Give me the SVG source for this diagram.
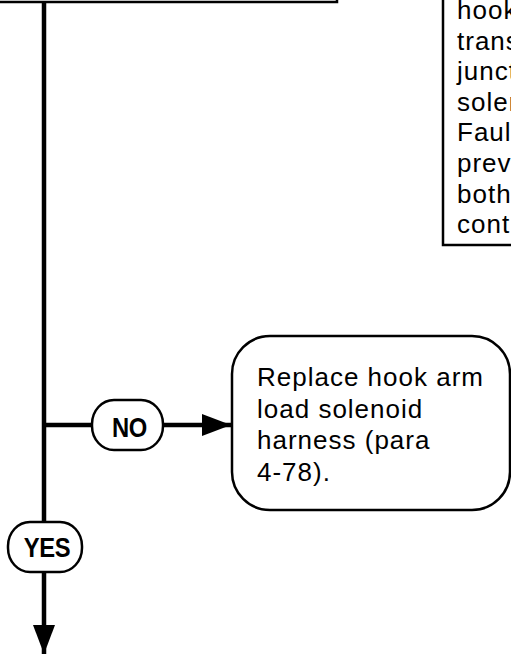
<svg xmlns="http://www.w3.org/2000/svg" width="511" height="655" viewBox="0 0 511 655">
<style>
.box{fill:#fff;stroke:#000;stroke-width:2.5}
.txt{font-family:"Liberation Sans",Arial,sans-serif;font-size:26px;letter-spacing:1px;fill:#000}
.pill{fill:#fff;stroke:#000;stroke-width:2.5}
.lbl{font-family:"Liberation Sans",Arial,sans-serif;font-size:28px;font-weight:bold;letter-spacing:-0.5px;fill:#000;text-anchor:middle}
.wire{stroke:#000;stroke-width:4.5;fill:none}
</style>
<defs>
<marker id="ah" markerUnits="userSpaceOnUse" markerWidth="30" markerHeight="24" refX="29" refY="11" orient="auto">
<path d="M0,0 L29,11 L0,22 Z" fill="#000"/>
</marker>
</defs>
<g id="connectors">
<line class="wire" x1="44" y1="2" x2="44" y2="654" marker-end="url(#ah)"/>
<line class="wire" x1="44" y1="425" x2="231" y2="425" marker-end="url(#ah)"/>
</g>
<g id="top-box">
<rect class="box" x="-10" y="-60" width="347" height="62"/>
</g>
<g id="note-box">
<rect class="box" x="443" y="-20" width="90" height="265"/>
<text class="txt" x="457" y="19">hook</text>
<text class="txt" x="457" y="49.6">trans</text>
<text class="txt" x="457" y="80.2">junct</text>
<text class="txt" x="457" y="110.8">solen</text>
<text class="txt" x="457" y="141.4">Faul</text>
<text class="txt" x="457" y="172">prev</text>
<text class="txt" x="457" y="202.6">both</text>
<text class="txt" x="457" y="233.2">cont</text>
</g>
<g id="replace">
<rect class="box" x="232" y="336" width="278" height="174" rx="38" ry="38"/>
<text class="txt" x="257" y="386">Replace hook arm</text>
<text class="txt" x="257" y="417.5">load solenoid</text>
<text class="txt" x="257" y="449">harness (para</text>
<text class="txt" x="257" y="480.5">4-78).</text>
</g>
<g id="no-label">
<rect class="pill" x="92" y="400" width="71" height="50" rx="22" ry="24"/>
<text class="lbl" transform="translate(129.5,437) scale(0.85,1)">NO</text>
</g>
<g id="yes-label">
<rect class="pill" x="8" y="522" width="74" height="50" rx="22" ry="24"/>
<text class="lbl" transform="translate(47,556.5) scale(0.85,1)">YES</text>
</g>
</svg>
